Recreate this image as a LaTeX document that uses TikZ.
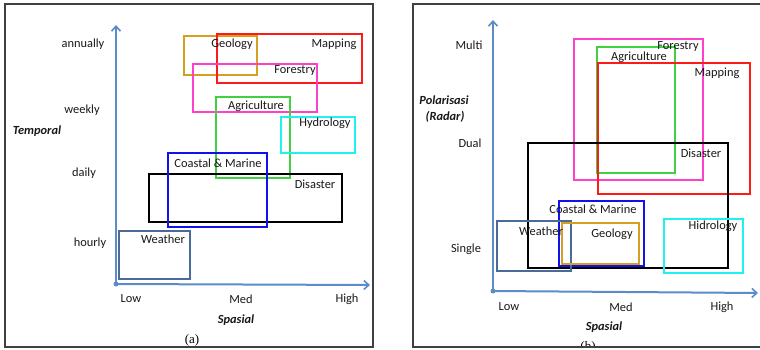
\documentclass[tikz,border=0pt]{standalone}
\usepackage{fontspec}
\setmainfont{Carlito}
\newfontfamily\serifcap{Liberation Serif}
\usetikzlibrary{arrows.meta}
\definecolor{axisblue}{HTML}{5B8BC8}
\definecolor{slate}{HTML}{4A6A9A}
\definecolor{goldc}{HTML}{D4A020}
\definecolor{redc}{HTML}{FF1A1A}
\definecolor{pinkc}{HTML}{FF40C8}
\definecolor{greenc}{HTML}{40D040}
\definecolor{cyanc}{HTML}{20F0F0}
\definecolor{bluec}{HTML}{1010F0}
\definecolor{framec}{HTML}{404040}
\tikzset{
  lbl/.style={inner sep=0pt, font=\fontsize{12.4}{14}\selectfont, text=black!90},
  axlbl/.style={lbl, font=\fontsize{12.4}{14}\selectfont\bfseries\itshape},
  boxline/.style={line width=1.4pt},
  axisline/.style={draw=axisblue, line width=2pt, -{Straight Barb[length=5pt,width=9pt,line width=1.6pt]}},
  framebox/.style={draw=framec, line width=1.5pt},
}
\begin{document}
\begin{tikzpicture}[x=1pt,y=-1pt]
\useasboundingbox (0,0) rectangle (760,350);
\clip (0,0) rectangle (760,350);
\fill[white] (0,0) rectangle (760,350);
% frames
\draw[framebox] (5,4) rectangle (373,347);
\draw[framebox] (413,4) rectangle (770,347);

% ---------- panel (a) ----------
\draw[boxline, draw=goldc] (184,36) rectangle (257,75);
\draw[boxline, draw=redc] (217,34) rectangle (362,83);
\draw[boxline, draw=pinkc] (193,64) rectangle (317,112);
\draw[boxline, draw=greenc] (216,97) rectangle (290,178);
\draw[boxline, draw=cyanc] (281,117) rectangle (355,153);
\draw[boxline, draw=black] (149,174) rectangle (342,222);
\draw[boxline, draw=bluec] (168,153) rectangle (267,227);
\draw[boxline, draw=slate] (119,231) rectangle (190,279);

\node[lbl] (ageo) at (232,44) {Geology};
\node[lbl] (amap) at (334,44) {Mapping};
\node[lbl] (afor) at (295,71) {Forestry};
\node[lbl] (aagr) at (256,106) {Agriculture};
\node[lbl] (ahyd) at (325,123) {Hydrology};
\node[lbl] (acoa) at (218,163) {Coastal \& Marine};
\node[lbl] (adis) at (315,184) {Disaster};
\node[lbl] (awea) at (163,239) {Weather};

\node[lbl] (aann) at (83,44) {annually};
\node[lbl] (awee) at (82,110) {weekly};
\node[axlbl] (atem) at (37,131) {Temporal};
\node[lbl] (adai) at (84,173) {daily};
\node[lbl] (ahou) at (90,243) {hourly};
\node[lbl] (alow) at (131,299) {Low};
\node[lbl] (amed) at (241,299) {Med};
\node[lbl] (ahig) at (347,299) {High};
\node[axlbl] (aspa) at (236,320) {Spasial};
\node[inner sep=0pt, font=\serifcap\fontsize{13}{15}\selectfont] (acap) at (192,340) {(a)};

\coordinate (aO) at (116,284);
\coordinate (aY) at (116,25);
\coordinate (aX) at (370,285);
\draw[axisline] (aO) -- (aY);
\draw[axisline] (aO) -- (aX);
\fill[axisblue] (aO) circle (2.5pt);

% ---------- panel (b) ----------
\draw[boxline, draw=pinkc] (574,39) rectangle (703,180);
\draw[boxline, draw=greenc] (597,47) rectangle (675,173);
\draw[boxline, draw=redc] (598,63) rectangle (750,194);
\draw[boxline, draw=black] (528,143) rectangle (728,268);
\draw[boxline, draw=bluec] (559,201) rectangle (644,266);
\draw[boxline, draw=slate] (497,221) rectangle (571,271);
\draw[boxline, draw=goldc] (562,223) rectangle (639,264);
\draw[boxline, draw=cyanc] (664,219) rectangle (743,273);

\node[lbl] (bfor) at (678,47) {Forestry};
\node[lbl] (bagr) at (639,57) {Agriculture};
\node[lbl] (bmap) at (717,73) {Mapping};
\node[lbl] (bdis) at (701,153) {Disaster};
\node[lbl] (bcoa) at (593,209) {Coastal \& Marine};
\node[lbl] (bwea) at (541,231) {Weather};
\node[lbl] (bgeo) at (612,234) {Geology};
\node[lbl] (bhid) at (713,226) {Hidrology};

\node[lbl] (bmul) at (469,45) {Multi};
\node[axlbl] (bpol) at (444,100) {Polarisasi};
\node[axlbl] (brad) at (445,117) {(Radar)};
\node[lbl] (bdua) at (470,143) {Dual};
\node[lbl] (bsin) at (466,249) {Single};
\node[lbl] (blow) at (509,307) {Low};
\node[lbl] (bmed) at (621,307) {Med};
\node[lbl] (bhig) at (722,307) {High};
\node[axlbl] (bspa) at (604,327) {Spasial};
\node[inner sep=0pt, font=\serifcap\fontsize{13}{15}\selectfont] (bcap) at (588,347.5) {(b)};
\fill[white] (414,348) rectangle (770,351);
\draw[framebox] (413,347) -- (770,347);

\coordinate (bO) at (493,291);
\coordinate (bY) at (493,20);
\coordinate (bX) at (758,293);
\draw[axisline] (bO) -- (bY);
\draw[axisline] (bO) -- (bX);
\fill[axisblue] (bO) circle (2.5pt);
\end{tikzpicture}
\end{document}
